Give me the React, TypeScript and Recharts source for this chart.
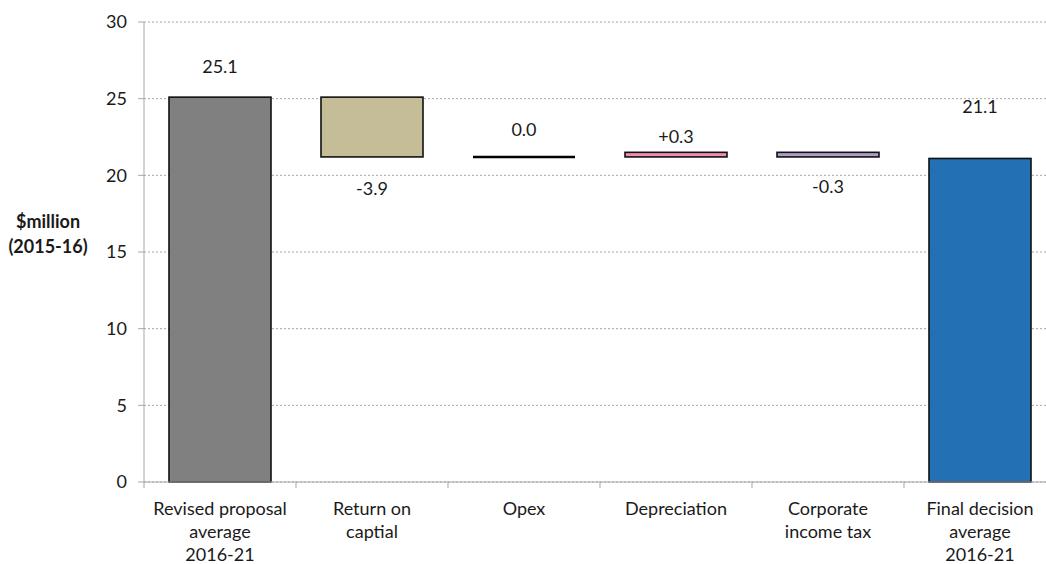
import React from "react";
import { BarChart, Bar, XAxis, YAxis, CartesianGrid, Cell, LabelList } from "recharts";

// Waterfall: revised proposal -> building-block changes -> final decision ($million, 2015-16)
const categories = [
  "Revised proposal\naverage\n2016-21",
  "Return on\ncaptial",
  "Opex",
  "Depreciation",
  "Corporate\nincome tax",
  "Final decision\naverage\n2016-21",
];
const amounts = [25.1, -3.9, 0.0, 0.3, -0.3, 21.1];
const isTotal = [true, false, false, false, false, true];
const valueLabels = ["25.1", "-3.9", "0.0", "+0.3", "-0.3", "21.1"];
const yTicks = [0, 5, 10, 15, 20, 25, 30];

const barColours = ["#808080", "#C4BD97", "#000000", "#F28CB4", "#B09DC6", "#2371B4"];
// distance (px) between the bar edge and the label baseline
const labelGap = [24, 38, 21, 9, 36, 45];

const FONT = "Lato, 'Open Sans', sans-serif";
const TEXT = "#1a1a1a";

// build [low, high] ranges by walking the running total
const data = (() => {
  let running = 0;
  return categories.map((name, i) => {
    let range: [number, number];
    if (isTotal[i]) {
      range = [0, amounts[i]];
      running = amounts[i];
    } else {
      const start = running;
      const end = running + amounts[i];
      range = [Math.min(start, end), Math.max(start, end)];
      running = end;
    }
    return { name, range, label: valueLabels[i] };
  });
})();

const WaterfallShape = (props: any) => {
  const { x, y, width, height, fill } = props;
  if (!(height > 0.5)) {
    return <line x1={x} x2={x + width} y1={y} y2={y} stroke="#000" strokeWidth={2.6} />;
  }
  return <rect x={x} y={y} width={width} height={height} fill={fill} stroke="#111" strokeWidth={1.6} />;
};

const ValueLabel = (props: any) => {
  const { x, y, width, height, value } = props;
  const i = valueLabels.indexOf(String(value));
  if (i < 0) return null;
  const below = String(value).startsWith("-");
  const ty = below ? y + height + labelGap[i] : y - labelGap[i];
  return (
    <text x={x + width / 2} y={ty} textAnchor="middle" fontFamily={FONT} fontSize={18} fill={TEXT}>
      {value}
    </text>
  );
};

const CategoryTick = (props: any) => {
  const { x, y, payload } = props;
  const half = payload.offset ?? 0;
  const lines = String(payload.value).split("\n");
  const isLast = payload.value === categories[categories.length - 1];
  return (
    <g>
      <line x1={x - half} x2={x - half} y1={y} y2={y + 6} stroke="#a6a6a6" strokeWidth={1} />
      {isLast && <line x1={x + half} x2={x + half} y1={y} y2={y + 6} stroke="#a6a6a6" strokeWidth={1} />}
      {lines.map((ln, k) => (
        <text key={k} x={x} y={y + 33 + k * 23} textAnchor="middle" fontFamily={FONT} fontSize={18} fill={TEXT}>
          {ln}
        </text>
      ))}
    </g>
  );
};

const AxisTitle = (props: any) => {
  const vb = props.viewBox || {};
  const cy = (vb.y ?? 22) + (vb.height ?? 460) / 2;
  return (
    <g>
      <text x={48} y={cy - 24} textAnchor="middle" fontFamily={FONT} fontWeight={700} fontSize={18} fill={TEXT}>
        $million
      </text>
      <text x={48} y={cy + 1} textAnchor="middle" fontFamily={FONT} fontWeight={700} fontSize={18} fill={TEXT}>
        (2015-16)
      </text>
    </g>
  );
};

export default function App() {
  return (
    <div
      style={{
        position: "fixed",
        left: 0,
        top: 0,
        width: 1046,
        height: 564,
        overflow: "hidden",
        background: "#fff",
      }}
    >
      <BarChart
        width={1070}
        height={564}
        data={data}
        margin={{ top: 22, right: 14, left: 0, bottom: 0 }}
        barSize={102}
      >
        <CartesianGrid vertical={false} stroke="#a6a6a6" strokeDasharray="2 2" />
        <XAxis
          dataKey="name"
          height={82}
          interval={0}
          tickLine={false}
          tickSize={0}
          tickMargin={0}
          axisLine={{ stroke: "#a6a6a6" }}
          tick={<CategoryTick />}
        />
        <YAxis
          width={144}
          domain={[0, 30]}
          ticks={yTicks}
          interval={0}
          tickSize={6}
          tickMargin={11}
          axisLine={{ stroke: "#a6a6a6" }}
          tickLine={{ stroke: "#a6a6a6" }}
          tick={{ fontFamily: FONT, fontSize: 18, fill: TEXT }}
          label={{ content: <AxisTitle /> }}
        />
        <Bar dataKey="range" isAnimationActive={false} shape={<WaterfallShape />}>
          {data.map((_, i) => (
            <Cell key={i} fill={barColours[i]} />
          ))}
          <LabelList dataKey="label" content={<ValueLabel />} />
        </Bar>
      </BarChart>
    </div>
  );
}
